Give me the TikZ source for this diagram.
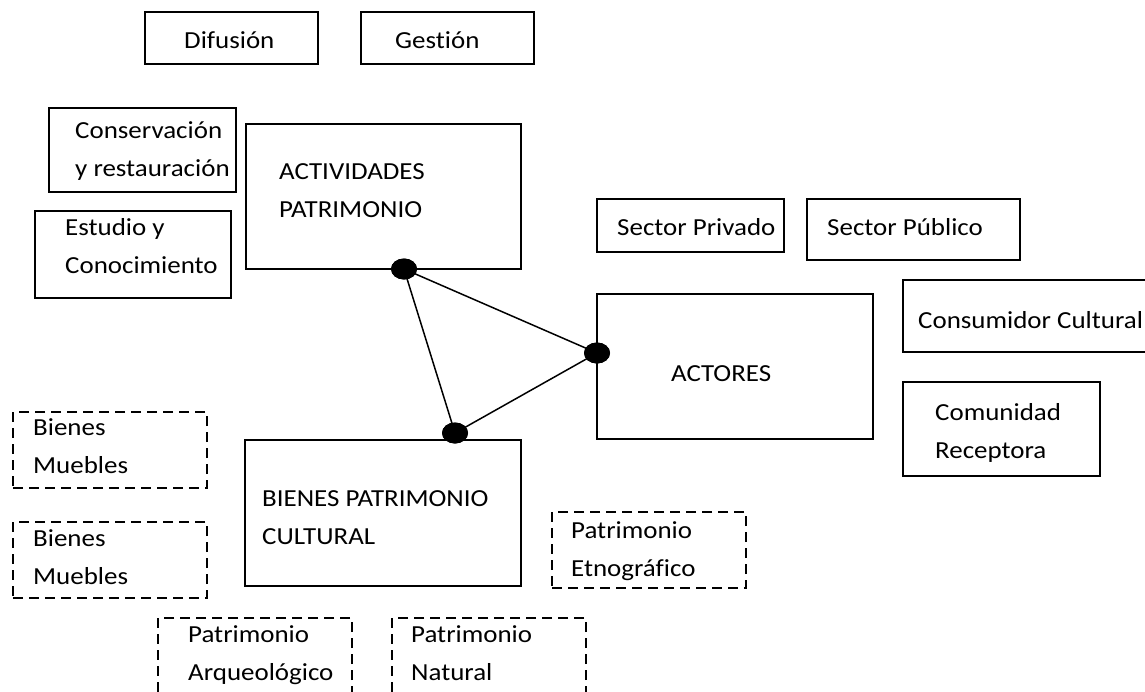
\documentclass[tikz,border=0pt]{standalone}
\usepackage{fontspec}
\setmainfont{Carlito}[Ligatures=NoCommon,FakeStretch=1.1]
\usetikzlibrary{shapes.geometric}
\begin{document}
\begin{tikzpicture}[x=1pt,y=-1pt,
  box/.style={draw,line width=1.9pt,inner sep=0pt},
  dbox/.style={draw,line width=2.6pt,dash pattern=on 10pt off 6pt,inner sep=0pt},
  txt/.style={anchor=base west,inner sep=0pt,align=left,font=\fontsize{24.5}{38}\selectfont},
  dot/.style={ellipse,fill=black,minimum width=26pt,minimum height=21pt,inner sep=0pt},
  link/.style={line width=1.5pt}]
\clip (0,0) rectangle (1145,691);
\fill[white] (0,0) rectangle (1145,691);
% boxes
\node[box,minimum width=173pt,minimum height=52pt] (dif) at (231.5,38) {};
\node[box,minimum width=173pt,minimum height=52pt] (ges) at (447.5,38) {};
\node[box,minimum width=187pt,minimum height=84pt] (con) at (142.5,150) {};
\node[box,minimum width=275pt,minimum height=145pt] (act) at (383.5,196.5) {};
\node[box,minimum width=196pt,minimum height=87pt] (est) at (133,254.5) {};
\node[box,minimum width=187pt,minimum height=53pt] (spr) at (690.5,225.5) {};
\node[box,minimum width=213pt,minimum height=61pt] (spu) at (913.5,229.5) {};
\node[box,minimum width=276pt,minimum height=145pt] (actr) at (735,366.5) {};
\node[box,minimum width=257pt,minimum height=72pt] (cons) at (1031.5,316) {};
\node[box,minimum width=197pt,minimum height=94pt] (com) at (1001.5,429) {};
\node[dbox,minimum width=194pt,minimum height=76pt] (bm1) at (110,450) {};
\node[dbox,minimum width=194pt,minimum height=76pt] (bm2) at (110,560) {};
\node[box,minimum width=276pt,minimum height=146pt] (bpc) at (383,513) {};
\node[dbox,minimum width=194pt,minimum height=76pt] (etn) at (649,550) {};
\node[dbox,minimum width=194pt,minimum height=92pt] (arq) at (255,664) {};
\node[dbox,minimum width=194pt,minimum height=92pt] (nat) at (489,664) {};
% texts
\node[txt] (difT) at (184,48) {Difusión};
\node[txt] (gesT) at (395,48) {Gestión};
\node[txt] (conT) at (75,176) {Conservación\\y restauración};
\node[txt] (actT) at (279,217) {ACTIVIDADES\\PATRIMONIO};
\node[txt] (estT) at (65,273) {Estudio y\\Conocimiento};
\node[txt] (sprT) at (617,235) {Sector Privado};
\node[txt] (spuT) at (827,235) {Sector Público};
\node[txt] (actrT) at (671,381) {ACTORES};
\node[txt] (consT) at (918,328) {Consumidor Cultural};
\node[txt] (comT) at (935,458) {Comunidad\\Receptora};
\node[txt] (bm1T) at (33,473) {Bienes\\Muebles};
\node[txt] (bm2T) at (33,584) {Bienes\\Muebles};
\node[txt] (bpcT) at (262,544) {BIENES PATRIMONIO\\CULTURAL};
\node[txt] (etnT) at (571,576) {Patrimonio\\Etnográfico};
\node[txt] (arqT) at (188,680) {Patrimonio\\Arqueológico};
\node[txt] (natT) at (411,680) {Patrimonio\\Natural};
% dots and links
\node[dot] (d1) at (404,269) {};
\node[dot] (d2) at (597,353) {};
\node[dot] (d3) at (455,433) {};
\draw[link] (d1.center) -- (d2.center) -- (d3.center) -- cycle;
\node[dot] at (d1) {};
\node[dot] at (d2) {};
\node[dot] at (d3) {};
\end{tikzpicture}
\end{document}
